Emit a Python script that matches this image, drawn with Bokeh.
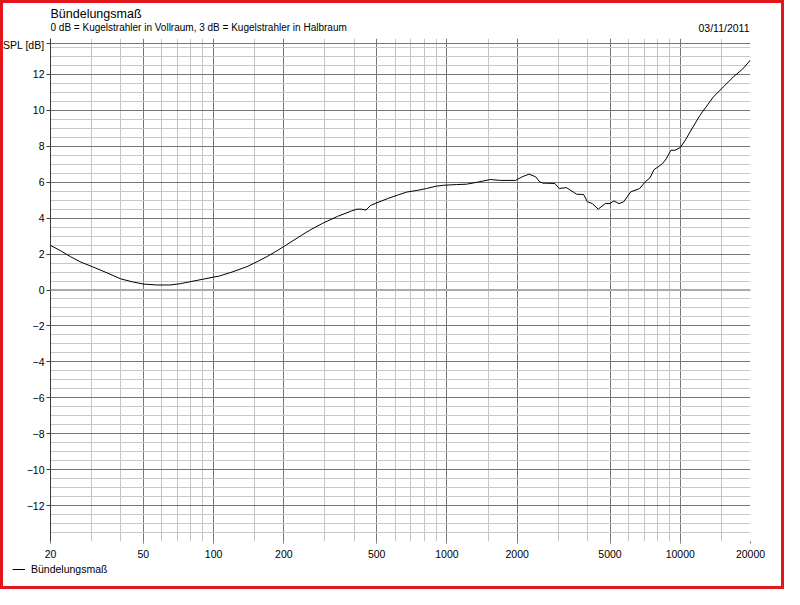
from bokeh.plotting import figure
from bokeh.layouts import column
from bokeh.models import Range1d, FixedTicker, NumeralTickFormatter, Label, Legend, LegendItem, Span
from bokeh.embed import file_html
from bokeh.resources import INLINE

# Bündelungsmaß (directivity index)
freq = [20, 22, 24.4, 27, 30.2, 35, 40, 45, 50, 57, 65, 72, 80, 90, 100, 106, 120, 139, 155, 170,
        185, 200, 235, 260, 294, 340, 390, 412, 430, 450, 470, 500, 560, 620, 672, 750, 817, 900,
        968, 1100, 1214, 1350, 1534, 1700, 1968, 2100, 2250, 2400, 2500, 2580, 2900, 3030, 3250,
        3600, 3850, 4000, 4200, 4450, 4770, 5000, 5200, 5460, 5720, 6130, 6700, 7080, 7420, 7720,
        8130, 8400, 8700, 9120, 9500, 10000, 10500, 11020, 12140, 13850, 15280, 16850, 18500, 20000]
spl = [2.48, 2.2, 1.85, 1.55, 1.3, 0.95, 0.62, 0.45, 0.33, 0.28, 0.28, 0.35, 0.47, 0.6, 0.72, 0.78,
       1.0, 1.3, 1.6, 1.87, 2.15, 2.42, 3.0, 3.35, 3.72, 4.1, 4.4, 4.5, 4.5, 4.45, 4.7, 4.85, 5.1,
       5.3, 5.45, 5.55, 5.65, 5.78, 5.83, 5.87, 5.89, 6.0, 6.15, 6.1, 6.1, 6.3, 6.45, 6.3, 6.02,
       5.95, 5.93, 5.65, 5.7, 5.33, 5.32, 4.91, 4.81, 4.5, 4.81, 4.81, 4.96, 4.81, 4.91, 5.46, 5.65,
       6.02, 6.25, 6.7, 6.9, 7.04, 7.3, 7.78, 7.78, 7.93, 8.33, 8.8, 9.72, 10.74, 11.3, 11.85, 12.3, 12.8]

x_major = [20, 50, 100, 200, 500, 1000, 2000, 5000, 10000, 20000]
x_minor = [30, 40, 60, 70, 80, 90, 150, 300, 400, 600, 700, 800, 900, 1500,
           3000, 4000, 6000, 7000, 8000, 9000, 15000]
y_major = [-12, -10, -8, -6, -4, -2, 0, 2, 4, 6, 8, 10, 12]
y_minor = [v / 2 for v in range(-27, 29) if v % 4 != 0]

title = "Bündelungsmaß"
subtitle = "0 dB = Kugelstrahler in Vollraum, 3 dB = Kugelstrahler in Halbraum"
date = "03/11/2011"
y_unit = "SPL [dB]"
font = "Liberation Sans"
W = 784


def strip(height, left, right):
    # a strip in pixel units (y down) without axes
    f = figure(width=W, height=height, x_range=Range1d(left, W - right), y_range=Range1d(height, 0),
               x_axis_location=None, y_axis_location=None,
               output_backend="svg", toolbar_location=None,
               min_border_left=left, min_border_right=right, min_border_top=0, min_border_bottom=0)
    f.grid.visible = False
    f.outline_line_color = None
    f.background_fill_color = None
    f.border_fill_color = None
    return f


# header with the titles
head = strip(38, 50, 34)
head.add_layout(Label(x=50, y=13, text=title, text_font=font, text_font_size="12.5px",
                      text_color="black", text_baseline="alphabetic"))
head.add_layout(Label(x=50, y=27, text=subtitle, text_font=font, text_font_size="10px",
                      text_color="black", text_baseline="alphabetic"))
head.add_layout(Label(x=749, y=27.5, text=date, text_font=font, text_font_size="10.5px",
                      text_color="black", text_align="right", text_baseline="alphabetic"))

# main chart
p = figure(width=W, height=525, x_axis_type="log",
           x_range=Range1d(20, 20000), y_range=Range1d(-14, 14),
           output_backend="svg", toolbar_location=None,
           min_border_left=50, min_border_right=34, min_border_top=0, min_border_bottom=22)
p.outline_line_color = None
p.background_fill_color = "white"
p.border_fill_color = None

p.xaxis.ticker = FixedTicker(ticks=x_major, minor_ticks=x_minor)
p.xaxis.formatter = NumeralTickFormatter(format="0")
p.xaxis.axis_line_color = None
p.xaxis.major_tick_out = 2
p.xaxis.major_tick_in = 0
p.xaxis.major_tick_line_color = "#6e6e6e"
p.xaxis.minor_tick_line_color = None
p.xaxis.major_label_standoff = 4

# the unit sits with the tick labels at the top of the axis
p.yaxis.ticker = FixedTicker(ticks=y_major + [13.7], minor_ticks=y_minor)
p.yaxis.major_label_overrides = {13.7: y_unit}
p.yaxis.axis_line_color = "#3c3c3c"
p.yaxis.major_tick_out = 4
p.yaxis.major_tick_in = 0
p.yaxis.major_tick_line_color = "#3c3c3c"
p.yaxis.minor_tick_line_color = None
p.yaxis.major_label_standoff = 2

for ax in (p.xaxis, p.yaxis):
    ax.major_label_text_font = font
    ax.major_label_text_font_size = "10.5px"
    ax.major_label_text_color = "black"

p.xgrid.grid_line_color = "#767676"
p.xgrid.minor_grid_line_color = "#c4c4c4"
p.ygrid.grid_line_color = "#767676"
p.ygrid.minor_grid_line_color = "#c8c8c8"

p.add_layout(Span(location=0, dimension="width", line_color="#aaaaaa", line_width=2))

r = p.line(freq, spl, line_color="black", line_width=1)

# footer with the legend, its frame not aligned to the chart above
foot = strip(26, 0, 0)
if hasattr(foot, "frame_align"):
    foot.frame_align = False
key = foot.line(freq, spl, line_color="black", line_width=1, visible=False)
legend = Legend(items=[LegendItem(label=title, renderers=[key])], location=(12, 14),
                padding=0, margin=0, spacing=0, glyph_width=13, glyph_height=12,
                label_height=12, label_standoff=6, border_line_color=None,
                background_fill_alpha=0, inactive_fill_alpha=0, label_text_font=font,
                label_text_font_size="10.5px", label_text_color="black")
foot.add_layout(legend)

page = column(head, p, foot, spacing=0,
              styles={"box-shadow": "inset 0 0 0 3px #e3161b", "background-color": "white"})

open("out.html", "w").write(file_html(page, INLINE))
